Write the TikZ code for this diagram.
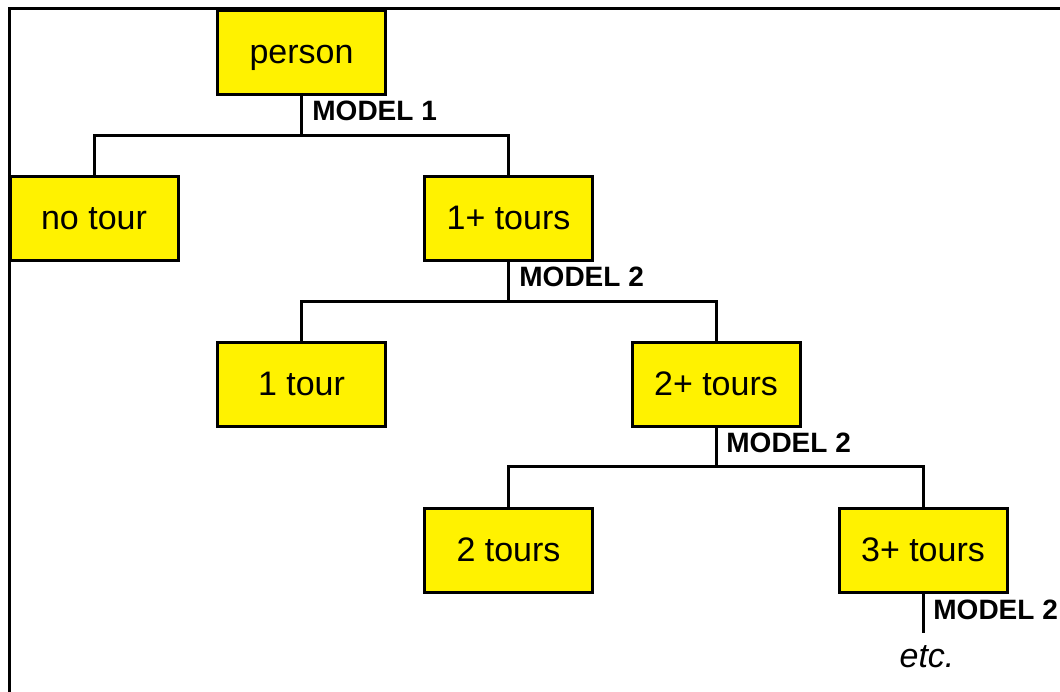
\documentclass[tikz,border=0pt]{standalone}
\usepackage{fontspec}
\setmainfont{Liberation Sans}
\usepackage{tikz}

\tikzset{
  tourbox/.style={draw=black, fill=yellow, line width=1.5pt, minimum width=84pt,
    minimum height=42pt, inner sep=0pt, text height=17pt, text depth=5.5pt,
    font=\fontsize{17}{20}\selectfont},
  modellabel/.style={anchor=west, inner sep=0pt, font=\fontsize{14}{16}\selectfont\bfseries},
  link/.style={line width=1.5pt}
}

\begin{document}
\begin{tikzpicture}[x=0.5pt,y=-0.5pt]
\useasboundingbox (0,0) rectangle (1060,691);
\draw[line width=1.5pt] (9,700) -- (9,8) -- (1070,8);
%
\node[tourbox] (person) at (301.5,52) {person};
\node[tourbox] (notour) at (94,218) {no tour};
\node[tourbox] (oneplus) at (508.5,218) {1+ tours};
\node[tourbox] (onetour) at (301.5,384) {1 tour};
\node[tourbox] (twoplus) at (716,384) {2+ tours};
\node[tourbox] (twotours) at (508.5,550) {2 tours};
\node[tourbox] (threeplus) at (923,550) {3+ tours};
%
\coordinate (split1) at (301.5,135);
\coordinate (split2) at (508.5,301);
\coordinate (split3) at (716,466);
\coordinate (split4) at (923,633);
%
\draw[link] (person.south) -- (split1) -| (notour.north);
\draw[link] (split1) -| (oneplus.north);
\draw[link] (oneplus.south) -- (split2) -| (onetour.north);
\draw[link] (split2) -| (twoplus.north);
\draw[link] (twoplus.south) -- (split3) -| (twotours.north);
\draw[link] (split3) -| (threeplus.north);
\draw[link] (threeplus.south) -- (split4);
%
\node[modellabel] (model1) at (312,111) {MODEL 1};
\node[modellabel] (model2) at (519,277) {MODEL 2};
\node[modellabel] (model3) at (726,443) {MODEL 2};
\node[modellabel] (model4) at (933,610) {MODEL 2};
\node[font=\fontsize{17}{20}\selectfont\itshape, inner sep=0pt] (etc) at (927,657) {etc.};
\end{tikzpicture}
\end{document}
